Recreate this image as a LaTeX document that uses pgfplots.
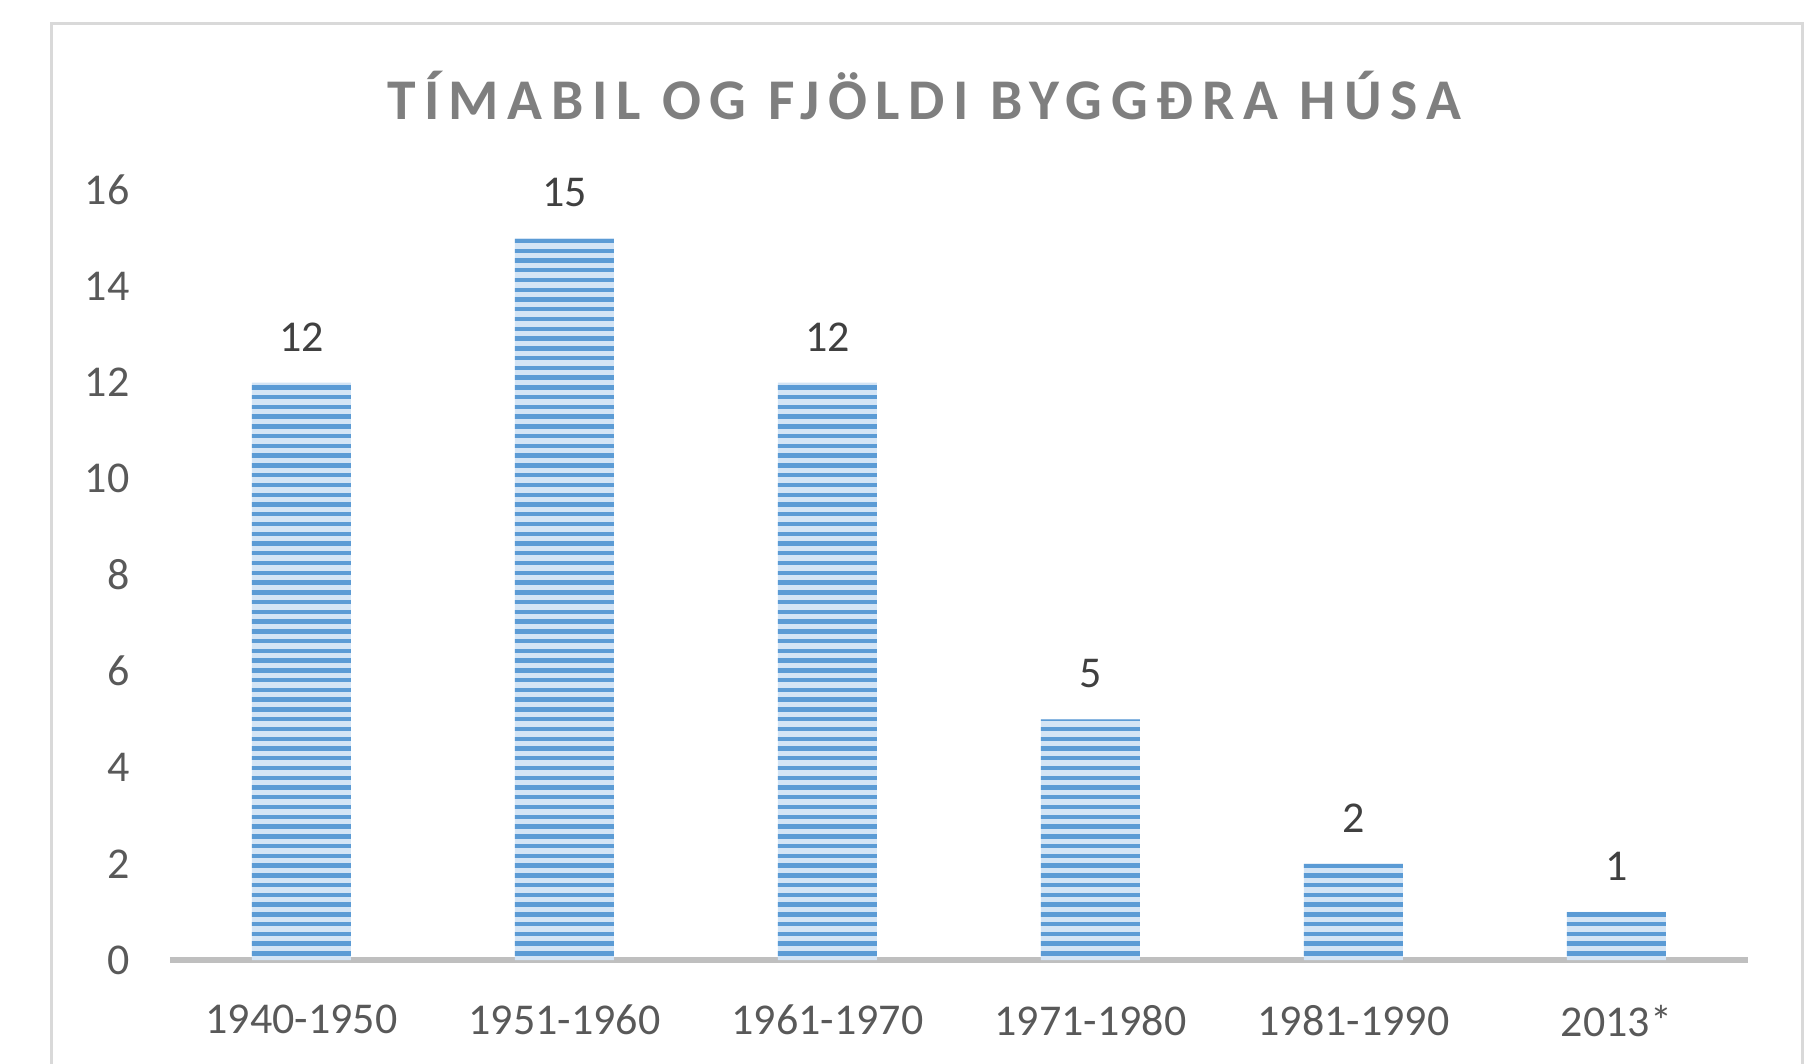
\documentclass[border=0pt]{standalone}
\usepackage{pgfplots}
\pgfplotsset{compat=1.18}
\usepackage{fontspec}
\setmainfont{Carlito}
\usetikzlibrary{patterns}
\pgfdeclarepatternformonly{hstripes}{\pgfpoint{-1pt}{0pt}}{\pgfpoint{200pt}{2.44pt}}{\pgfpoint{200pt}{2.44pt}}%
{\pgfpathrectangle{\pgfpoint{-2pt}{0pt}}{\pgfpoint{204pt}{1.1pt}}\pgfusepath{fill}}
\definecolor{barblue}{HTML}{5B9BD5}
\definecolor{barmid}{HTML}{D3E4F5}
\definecolor{axisgray}{HTML}{BFBFBF}
\definecolor{framegray}{HTML}{D9D9D9}
\definecolor{ticktext}{HTML}{595959}
\definecolor{labeltext}{HTML}{404040}
\definecolor{titlegray}{HTML}{7F7F7F}
\begin{document}
\begin{tikzpicture}
\path[use as bounding box] (-42.5pt,-25.75pt) rectangle (410pt,240pt);
\clip (-42.5pt,-25.75pt) rectangle (410pt,240pt);
\draw[framegray, line width=0.75pt] (-29.5pt,-60pt) rectangle (408pt,234pt);
\begin{axis}[
  at={(0,0)}, anchor=south west, scale only axis,
  width=394.5pt, height=192.5pt,
  xmin=-0.5, xmax=5.5, ymin=0, ymax=16,
  axis x line=bottom, axis y line=left,
  axis line style={-},
  y axis line style={draw=none},
  x axis line style={draw=axisgray, line width=1.7pt},
  xtick={0,1,2,3,4,5},
  xticklabels={1940-1950,1951-1960,1961-1970,1971-1980,1981-1990,2013*},
  ytick={0,2,4,6,8,10,12,14,16},
  major tick length=0pt, tick style={draw=none},
  tick label style={font=\fontsize{11}{13}\selectfont, text=ticktext},
  /pgf/number format/assume math mode=true,
  yticklabel style={xshift=-6.6pt},
  xticklabel style={yshift=-7.75pt},
  clip=false,
  title={TÍMABIL OG FJÖLDI BYGGÐRA HÚSA},
  title style={at={(rel axis cs:0.478,1.0604)}, anchor=base,
    font={\fontsize{14.4}{17}\selectfont\bfseries\addfontfeature{LetterSpace=15}}, text=titlegray},
]
\addplot[ybar, bar width=24.75pt, bar shift=0pt, draw=none, fill=barmid]
  coordinates {(0,12) (1,15) (2,12) (3,5) (4,2) (5,1)};
\addplot[ybar, bar width=24.75pt, bar shift=0pt, draw=none,
  pattern=hstripes, pattern color=barblue]
  coordinates {(0,12) (1,15) (2,12) (3,5) (4,2) (5,1)};
\addplot[draw=none, mark=none, nodes near coords,
  every node near coord/.append style={anchor=south, yshift=4.3pt, text=labeltext, font=\fontsize{11}{13}\selectfont},
  /pgf/number format/assume math mode=true]
  coordinates {(0,12) (1,15) (2,12) (3,5) (4,2) (5,1)};
\end{axis}
\end{tikzpicture}
\end{document}
